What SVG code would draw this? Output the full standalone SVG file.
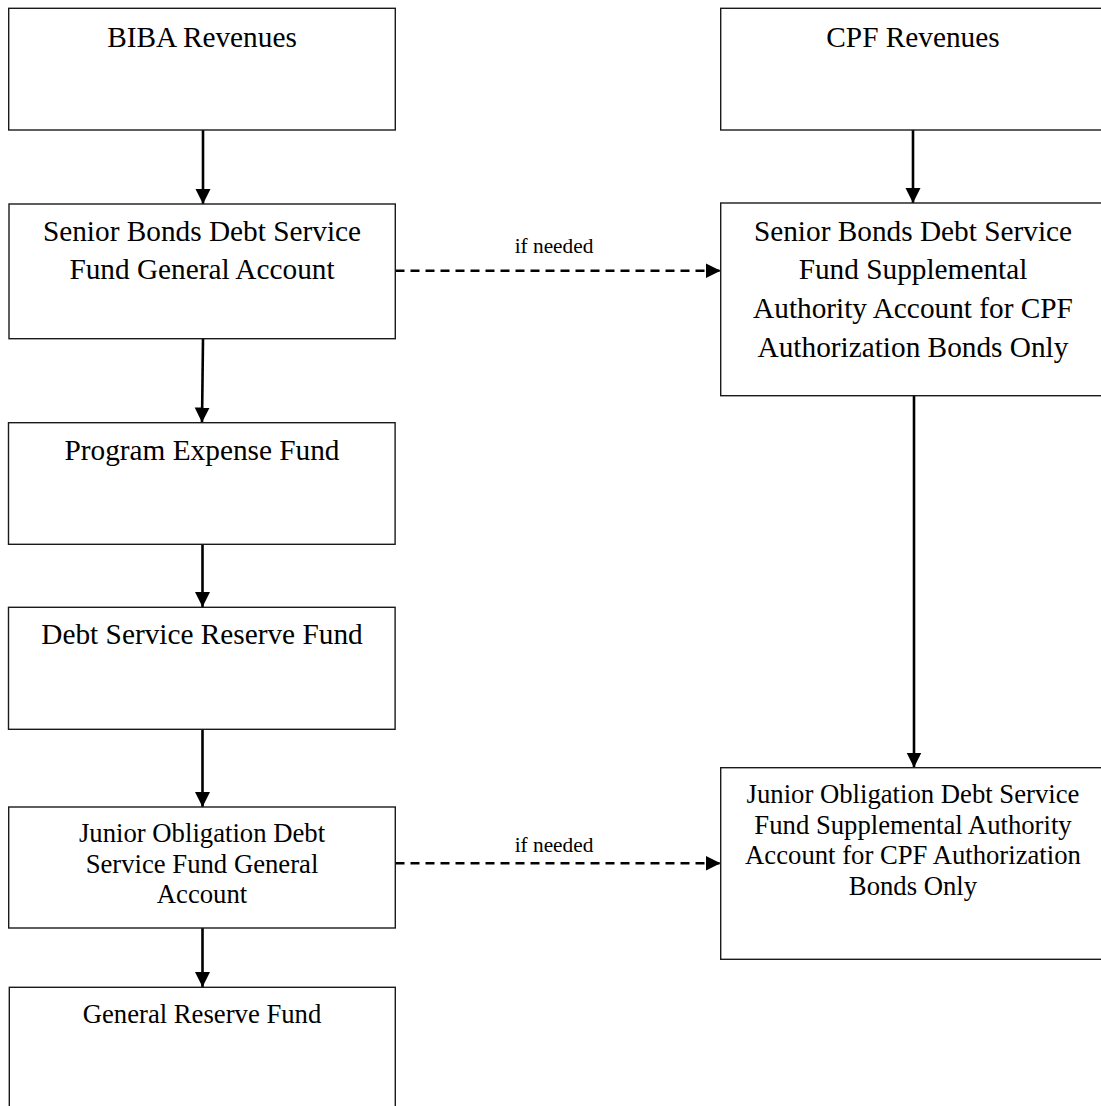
<svg xmlns="http://www.w3.org/2000/svg" width="1101" height="1106" viewBox="0 0 1101 1106">
<style>
.box{fill:#fff;stroke:#1a1a1a;stroke-width:1.4}
.t{font-family:"Liberation Serif","Times New Roman",serif;fill:#000;text-anchor:middle}
.big{font-size:29.3px}
.mid{font-size:26.7px}
.lbl{font-size:21.3px}
.arr{stroke:#000;stroke-width:2.6;fill:none}
.dash{stroke-dasharray:9 6}
</style>
<defs>
<marker id="ah" markerUnits="userSpaceOnUse" markerWidth="16" markerHeight="16" viewBox="0 0 16 16" refX="15" refY="8" orient="auto">
<path d="M0,0.5 L15,8 L0,15.5 Z" fill="#000"/>
</marker>
</defs>
<rect width="1101" height="1106" fill="#fff"/>
<g id="connectors">
<line class="arr" x1="203" y1="130" x2="203" y2="204" marker-end="url(#ah)"/>
<line class="arr" x1="203" y1="339" x2="202" y2="422.5" marker-end="url(#ah)"/>
<line class="arr" x1="202.5" y1="544.5" x2="202.5" y2="607" marker-end="url(#ah)"/>
<line class="arr" x1="202.5" y1="729.5" x2="202.5" y2="807" marker-end="url(#ah)"/>
<line class="arr" x1="202.5" y1="928" x2="202.5" y2="987" marker-end="url(#ah)"/>
<line class="arr" x1="913" y1="130" x2="913" y2="203" marker-end="url(#ah)"/>
<line class="arr" x1="914" y1="396" x2="914" y2="767.5" marker-end="url(#ah)"/>
<line class="arr dash" x1="395.5" y1="270.7" x2="720.5" y2="270.7" marker-end="url(#ah)"/>
<line class="arr dash" x1="395.5" y1="863.3" x2="720.5" y2="863.3" marker-end="url(#ah)"/>
<text class="t lbl" x="554" y="252.7">if needed</text>
<text class="t lbl" x="554" y="852">if needed</text>
</g>
<g id="biba">
<rect class="box" x="8.7" y="8.3" width="386.6" height="121.7"/>
<text class="t big" x="202" y="46.7">BIBA Revenues</text>
</g>
<g id="cpf">
<rect class="box" x="720.7" y="8.3" width="384.6" height="121.7"/>
<text class="t big" x="913" y="46.7">CPF Revenues</text>
</g>
<g id="senior-general">
<rect class="box" x="9" y="204" width="386.3" height="134.7"/>
<text class="t big" x="202" y="240.7">Senior Bonds Debt Service</text>
<text class="t big" x="202" y="279.3">Fund General Account</text>
</g>
<g id="senior-supplemental">
<rect class="box" x="720.7" y="203" width="384.6" height="192.7"/>
<text class="t big" x="913" y="240.7">Senior Bonds Debt Service</text>
<text class="t big" x="913" y="279.3">Fund Supplemental</text>
<text class="t big" x="913" y="318.3">Authority Account for CPF</text>
<text class="t big" x="913" y="356.7">Authorization Bonds Only</text>
</g>
<g id="program-expense">
<rect class="box" x="8.5" y="422.7" width="386.6" height="121.6"/>
<text class="t big" x="202" y="460">Program Expense Fund</text>
</g>
<g id="debt-service-reserve">
<rect class="box" x="8.5" y="607.3" width="386.6" height="122"/>
<text class="t big" x="202" y="644.3">Debt Service Reserve Fund</text>
</g>
<g id="junior-general">
<rect class="box" x="8.7" y="807" width="386.6" height="121"/>
<text class="t mid" x="202" y="841.7">Junior Obligation Debt</text>
<text class="t mid" x="202" y="872.7">Service Fund General</text>
<text class="t mid" x="202" y="902.7">Account</text>
</g>
<g id="junior-supplemental">
<rect class="box" x="720.7" y="767.7" width="384.6" height="191.6"/>
<text class="t mid" x="913" y="803.3">Junior Obligation Debt Service</text>
<text class="t mid" x="913" y="834.3">Fund Supplemental Authority</text>
<text class="t mid" x="913" y="864.3">Account for CPF Authorization</text>
<text class="t mid" x="913" y="895">Bonds Only</text>
</g>
<g id="general-reserve">
<rect class="box" x="9.3" y="987.3" width="386" height="130"/>
<text class="t mid" x="202" y="1022.7">General Reserve Fund</text>
</g>
</svg>
